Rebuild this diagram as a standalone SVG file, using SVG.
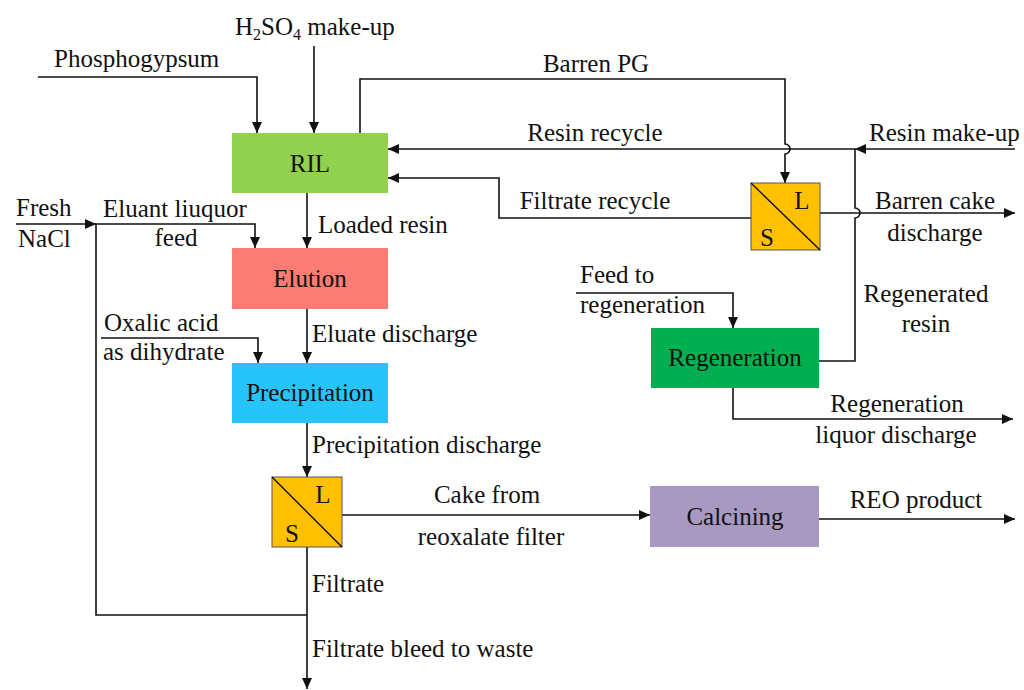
<svg xmlns="http://www.w3.org/2000/svg" width="1024" height="690" viewBox="0 0 1024 690" font-family="'Liberation Serif', 'DejaVu Serif', serif">
<style>
text{font-family:'Liberation Serif','Times New Roman','DejaVu Serif',serif;font-size:25px;fill:#111}
.m{text-anchor:middle}
.c{fill:none;stroke:#111;stroke-width:1.6}
.a{marker-end:url(#ah)}
.f{fill:#ffc000;stroke:#555;stroke-width:1}
</style>
<defs>
<marker id="ah" markerUnits="userSpaceOnUse" markerWidth="11" markerHeight="10" refX="11" refY="5" orient="auto">
<path d="M0,0 L11,5 L0,10 z" fill="#111"/>
</marker>
</defs>
<rect width="1024" height="690" fill="#fff"/>
<g id="connectors">
<path class="c a" d="M38,77 H257 V133"/>
<path class="c a" d="M314,46 V133"/>
<path class="c a" d="M360,133 V79 H785 V144 a5,5 0 0 1 0,10 V183"/>
<path class="c a" d="M1015,149 H855"/>
<path class="c a" d="M855,149 H388"/>
<path class="c" d="M819,361 H855 V218 a5,5 0 0 0 0,-10 V149"/>
<path class="c a" d="M751,218 H499 V178 H388"/>
<path class="c a" d="M820,213 H1015"/>
<path class="c a" d="M307,193 V248"/>
<path class="c a" d="M16,224 H96"/>
<path class="c a" d="M307,615 H96 V224 H255 V248"/>
<path class="c a" d="M307,309 V363"/>
<path class="c a" d="M101,338 H258 V363"/>
<path class="c a" d="M307,423 V477"/>
<path class="c a" d="M342,515 H650"/>
<path class="c a" d="M819,519 H1015"/>
<path class="c a" d="M307,547 V689"/>
<path class="c a" d="M576,293 H733 V328"/>
<path class="c a" d="M733,388 V419 H1013"/>
</g>
<g id="labels">
<text x="235" y="35">H<tspan font-size="16" dy="5">2</tspan><tspan dy="-5">SO</tspan><tspan font-size="16" dy="5">4</tspan><tspan dy="-5"> make-up</tspan></text>
<text x="54" y="67">Phosphogypsum</text>
<text class="m" x="596" y="72">Barren PG</text>
<text class="m" x="595" y="141">Resin recycle</text>
<text x="869" y="141">Resin make-up</text>
<text class="m" x="595" y="209">Filtrate recycle</text>
<text class="m" x="935" y="209">Barren cake</text>
<text class="m" x="935" y="241">discharge</text>
<text x="318" y="233">Loaded resin</text>
<text x="16" y="216">Fresh</text>
<text x="18" y="247">NaCl</text>
<text x="103" y="217">Eluant liuquor</text>
<text class="m" x="176" y="246">feed</text>
<text x="104" y="331">Oxalic acid</text>
<text x="103" y="360">as dihydrate</text>
<text x="312" y="342">Eluate discharge</text>
<text x="580" y="283">Feed to</text>
<text x="580" y="313">regeneration</text>
<text class="m" x="926" y="302">Regenerated</text>
<text class="m" x="926" y="332">resin</text>
<text class="m" x="897" y="412">Regeneration</text>
<text class="m" x="896" y="443">liquor discharge</text>
<text x="312" y="453">Precipitation discharge</text>
<text class="m" x="487" y="503">Cake from</text>
<text class="m" x="491" y="545">reoxalate filter</text>
<text class="m" x="916" y="508">REO product</text>
<text x="312" y="592">Filtrate</text>
<text x="312" y="657">Filtrate bleed to waste</text>
</g>
<g id="RIL">
<rect x="232" y="133" width="156" height="60" fill="#92d050"/>
<text class="m" x="310" y="172">RIL</text>
</g>
<g id="Elution">
<rect x="232" y="248" width="156" height="61" fill="#fa7c73"/>
<text class="m" x="310" y="287">Elution</text>
</g>
<g id="Precipitation">
<rect x="232" y="363" width="156" height="60" fill="#26c4fa"/>
<text class="m" x="310" y="401">Precipitation</text>
</g>
<g id="Regeneration">
<rect x="651" y="328" width="168" height="60" fill="#00b050"/>
<text class="m" x="735" y="366">Regeneration</text>
</g>
<g id="Calcining">
<rect x="650" y="486" width="169" height="61" fill="#a899c2"/>
<text class="m" x="735" y="525">Calcining</text>
</g>
<g id="FilterTop">
<rect class="f" x="751" y="183" width="69" height="67"/>
<line x1="751" y1="183" x2="820" y2="250" stroke="#111" stroke-width="1.4"/>
<text class="m" x="802" y="209">L</text>
<text class="m" x="767" y="246">S</text>
</g>
<g id="FilterBottom">
<rect class="f" x="272" y="477" width="70" height="70"/>
<line x1="272" y1="477" x2="342" y2="547" stroke="#111" stroke-width="1.4"/>
<text class="m" x="323" y="503">L</text>
<text class="m" x="292" y="542">S</text>
</g>
</svg>
